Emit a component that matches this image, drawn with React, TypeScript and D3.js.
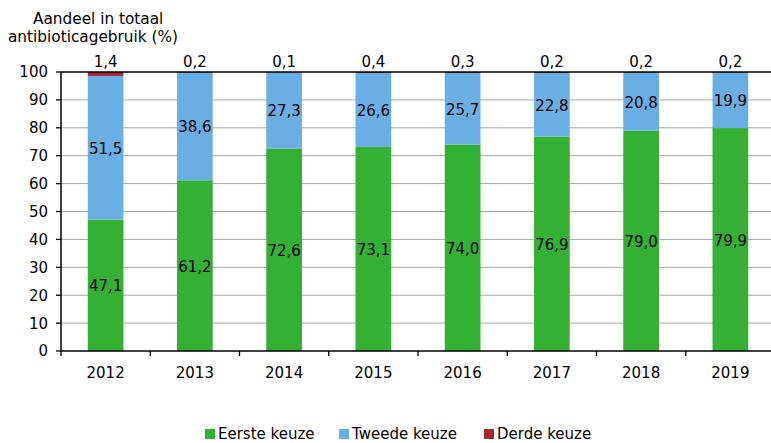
import React from 'react';
import * as d3 from 'd3';

const years = ['2012', '2013', '2014', '2015', '2016', '2017', '2018', '2019'];
const eerste = [47.1, 61.2, 72.6, 73.1, 74.0, 76.9, 79.0, 79.9];
const tweede = [51.5, 38.6, 27.3, 26.6, 25.7, 22.8, 20.8, 19.9];
const derde = [1.4, 0.2, 0.1, 0.4, 0.3, 0.2, 0.2, 0.2];
const yTicks = [0, 10, 20, 30, 40, 50, 60, 70, 80, 90, 100];
const seriesNames = ['Eerste keuze', 'Tweede keuze', 'Derde keuze'];
const colors = ['#34b034', '#6aafe4', '#a8272f'];

const W = 771;
const H = 443;
const font = '"DejaVu Sans", Verdana, sans-serif';
const fmt = (v: number) => v.toFixed(1).replace('.', ',');

export default function App() {
  const x = d3.scaleBand().domain(years).range([61, 775]).paddingInner(0.6).paddingOuter(0.3);
  const y = d3.scaleLinear().domain([0, 100]).range([351, 72]);
  const step = x.step();
  const bounds = d3.range(years.length + 1).map(i => 61 + i * step);

  const stacked = years.map((yr, i) => {
    const e = eerste[i];
    const t = Math.min(tweede[i], 100 - e);
    return { yr, segs: [[0, e], [e, e + t], [e + t, 100]] };
  });

  return (
    <svg width={W} height={H} style={{ position: 'absolute', left: 0, top: 0, background: '#fff' }}
      fontFamily={font}>
      <text x={33} y={24} fontSize={15.3} fill="#000">Aandeel in totaal</text>
      <text x={8} y={42} fontSize={15.3} fill="#000">antibioticagebruik (%)</text>

      {yTicks.filter(t => t > 0 && t < 100).map(t => (
        <line key={t} x1={61} x2={W} y1={y(t)} y2={y(t)} stroke="#a6a6a6" strokeWidth={1} />
      ))}

      {stacked.map((d, i) => (
        <g key={d.yr}>
          {d.segs.map((s, k) => (
            <rect key={k} x={x(d.yr)} width={x.bandwidth()} y={y(s[1])}
              height={Math.max(0, y(s[0]) - y(s[1]))} fill={colors[k]} />
          ))}
          <text x={x(d.yr)! + x.bandwidth() / 2} y={y(eerste[i] / 2)} dy="0.4em"
            textAnchor="middle" fontSize={15}>{fmt(eerste[i])}</text>
          <text x={x(d.yr)! + x.bandwidth() / 2} y={y(eerste[i] + tweede[i] / 2)} dy="0.4em"
            textAnchor="middle" fontSize={15}>{fmt(tweede[i])}</text>
          <text x={x(d.yr)! + x.bandwidth() / 2} y={67}
            textAnchor="middle" fontSize={15}>{fmt(derde[i])}</text>
        </g>
      ))}

      <line x1={61} x2={W} y1={y(100)} y2={y(100)} stroke="#000" strokeWidth={1.3} />
      <line x1={61} x2={W} y1={y(0)} y2={y(0)} stroke="#000" strokeWidth={1.5} />
      <line x1={61} x2={61} y1={y(0)} y2={y(100)} stroke="#000" strokeWidth={1.5} />

      {yTicks.map(t => (
        <g key={t}>
          <line x1={56} x2={61} y1={y(t)} y2={y(t)} stroke="#000" strokeWidth={1.3} />
          <text x={48} y={y(t)} dy="0.36em" textAnchor="end" fontSize={15}>{t}</text>
        </g>
      ))}

      {bounds.map((b, i) => (
        <line key={i} x1={b} x2={b} y1={y(0)} y2={y(0) + 5} stroke="#000" strokeWidth={1.3} />
      ))}
      {years.map(yr => (
        <text key={yr} x={x(yr)! + x.bandwidth() / 2} y={378} textAnchor="middle" fontSize={15}>{yr}</text>
      ))}

      {[205, 339, 484].map((lx, k) => (
        <g key={k}>
          <rect x={lx} y={429} width={10} height={10} fill={colors[k]} />
          <text x={lx + 13} y={439} fontSize={15}>{seriesNames[k]}</text>
        </g>
      ))}
    </svg>
  );
}
